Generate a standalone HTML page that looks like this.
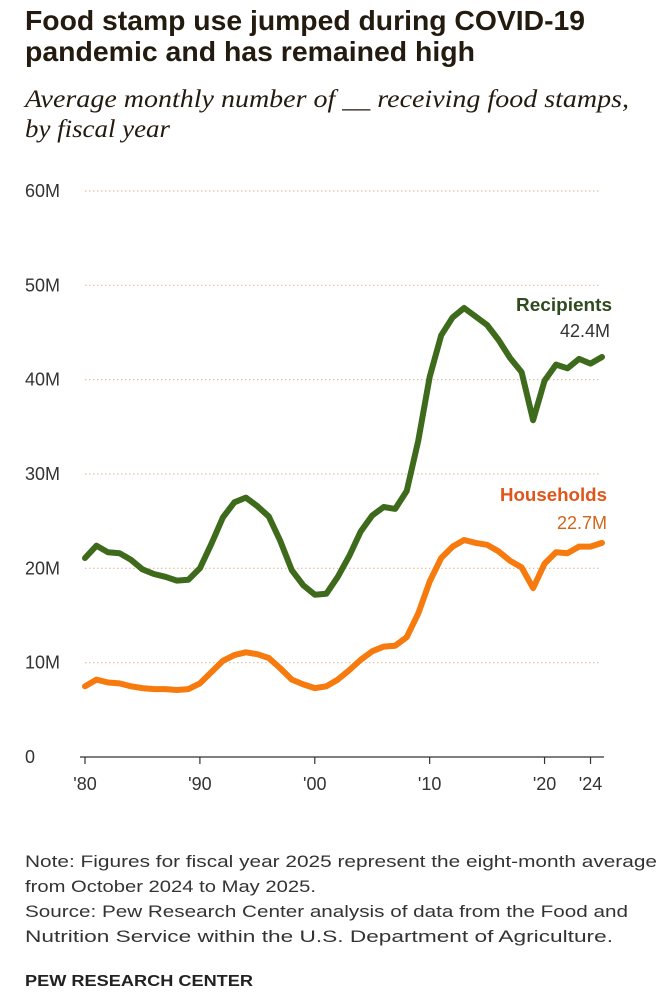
<!DOCTYPE html>
<html><head><meta charset="utf-8"><style>
html,body{margin:0;padding:0;background:#fff;}
svg{display:block;}
</style></head><body>
<svg id="chart" width="668" height="1000" viewBox="0 0 668 1000" xmlns="http://www.w3.org/2000/svg">
<text x="25" y="30" font-family="Liberation Sans, sans-serif" font-weight="bold" font-size="28" fill="#231a10" textLength="560" lengthAdjust="spacingAndGlyphs">Food stamp use jumped during COVID-19</text>
<text x="25" y="61" font-family="Liberation Sans, sans-serif" font-weight="bold" font-size="28" fill="#231a10" textLength="450" lengthAdjust="spacingAndGlyphs">pandemic and has remained high</text>
<text x="25" y="107" font-family="Liberation Serif, serif" font-style="italic" font-size="25" fill="#231a10" textLength="604" lengthAdjust="spacingAndGlyphs">Average monthly number of __ receiving food stamps,</text>
<text x="25" y="137" font-family="Liberation Serif, serif" font-style="italic" font-size="25" fill="#231a10" textLength="145" lengthAdjust="spacingAndGlyphs">by fiscal year</text>
<g id="grid"></g>
<g id="xaxis"></g>
<g id="lines"></g>
<text x="612" y="311" text-anchor="end" font-family="Liberation Sans, sans-serif" font-weight="bold" font-size="18" fill="#2f4a1e" textLength="96" lengthAdjust="spacingAndGlyphs">Recipients</text>
<text x="610" y="337" text-anchor="end" font-family="Liberation Sans, sans-serif" font-size="18" fill="#333">42.4M</text>
<text x="607" y="501" text-anchor="end" font-family="Liberation Sans, sans-serif" font-weight="bold" font-size="18" fill="#e0561a" textLength="107" lengthAdjust="spacingAndGlyphs">Households</text>
<text x="607" y="529" text-anchor="end" font-family="Liberation Sans, sans-serif" font-size="18" fill="#d0661a">22.7M</text>
<g font-family="Liberation Sans, sans-serif" font-size="17" fill="#333" lengthAdjust="spacingAndGlyphs">
<text x="25" y="867" textLength="632" lengthAdjust="spacingAndGlyphs">Note: Figures for fiscal year 2025 represent the eight-month average</text>
<text x="25" y="892" textLength="291" lengthAdjust="spacingAndGlyphs">from October 2024 to May 2025.</text>
<text x="25" y="917" textLength="603" lengthAdjust="spacingAndGlyphs">Source: Pew Research Center analysis of data from the Food and</text>
<text x="25" y="942" textLength="588" lengthAdjust="spacingAndGlyphs">Nutrition Service within the U.S. Department of Agriculture.</text>
</g>
<text x="25" y="986" font-family="Liberation Sans, sans-serif" font-weight="bold" font-size="16" fill="#222" textLength="228" lengthAdjust="spacingAndGlyphs">PEW RESEARCH CENTER</text>
</svg>
<script>
const years = [1980,1981,1982,1983,1984,1985,1986,1987,1988,1989,1990,1991,1992,1993,1994,1995,1996,1997,1998,1999,2000,2001,2002,2003,2004,2005,2006,2007,2008,2009,2010,2011,2012,2013,2014,2015,2016,2017,2018,2019,2020,2021,2022,2023,2024,2025];
const recipients = [21.1,22.4,21.7,21.6,20.9,19.9,19.4,19.1,18.7,18.8,20.0,22.6,25.4,27.0,27.5,26.6,25.5,22.9,19.8,18.2,17.2,17.3,19.1,21.3,23.9,25.6,26.5,26.3,28.2,33.5,40.3,44.7,46.6,47.6,46.7,45.8,44.2,42.3,40.8,35.7,39.9,41.6,41.2,42.2,41.7,42.4];
const households = [7.5,8.2,7.9,7.8,7.5,7.3,7.2,7.2,7.1,7.2,7.8,9.0,10.2,10.8,11.1,10.9,10.5,9.4,8.2,7.7,7.3,7.5,8.2,9.2,10.3,11.2,11.7,11.8,12.7,15.2,18.6,21.1,22.3,23.0,22.7,22.5,21.8,20.8,20.1,17.9,20.5,21.7,21.6,22.3,22.3,22.7];
const yTicks = [0,10,20,30,40,50,60];
const yTickLabels = ["0","10M","20M","30M","40M","50M","60M"];
const xTicks = [1980,1990,2000,2010,2020,2024];
const xTickLabels = ["'80","'90","'00","'10","'20","'24"];

const NS="http://www.w3.org/2000/svg";
const x = yr => 85 + (yr-1980)*(602-85)/45;
const y = v => 757 - v*(757-191)/60;
function mk(tag, attrs, parent){const e=document.createElementNS(NS,tag);for(const k in attrs)e.setAttribute(k,attrs[k]);parent.appendChild(e);return e;}
const grid=document.getElementById('grid');
yTicks.forEach((t,i)=>{
  if(t>0){
    const l=mk('line',{x1:85,x2:600,y1:y(t),y2:y(t),stroke:'#dcbf9f','stroke-width':1.2,'stroke-dasharray':'1.5 2.5'},grid);
    
    
  }
  const tx=mk('text',{x:25,y:y(t)+6,'font-family':'Liberation Sans, sans-serif','font-size':18,fill:'#333'},grid);
  tx.textContent=yTickLabels[i];
  
  
});
const xa=document.getElementById('xaxis');
const base=mk('line',{x1:80,x2:604,y1:757,y2:757,stroke:'#333','stroke-width':1.2},xa);


xTicks.forEach((t,i)=>{
  const tk=mk('line',{x1:x(t),x2:x(t),y1:757,y2:764,stroke:'#333','stroke-width':1.2},xa);
  
  
  const tx=mk('text',{x:x(t),y:790,'text-anchor':'middle','font-family':'Liberation Sans, sans-serif','font-size':18,fill:'#333'},xa);
  tx.textContent=xTickLabels[i];
  
  
});
const lg=document.getElementById('lines');
function line(vals,color,name){
  const d=vals.map((v,i)=>(i?'L':'M')+x(years[i]).toFixed(1)+','+y(v).toFixed(1)).join('');
  const p=mk('path',{d:d,fill:'none',stroke:color,'stroke-width':6,'stroke-linejoin':'round','stroke-linecap':'round'},lg);
  
  
}
line(recipients,'#3e6a1c','recipients-line');
line(households,'#f67a0e','households-line');
</script>
</body></html>
